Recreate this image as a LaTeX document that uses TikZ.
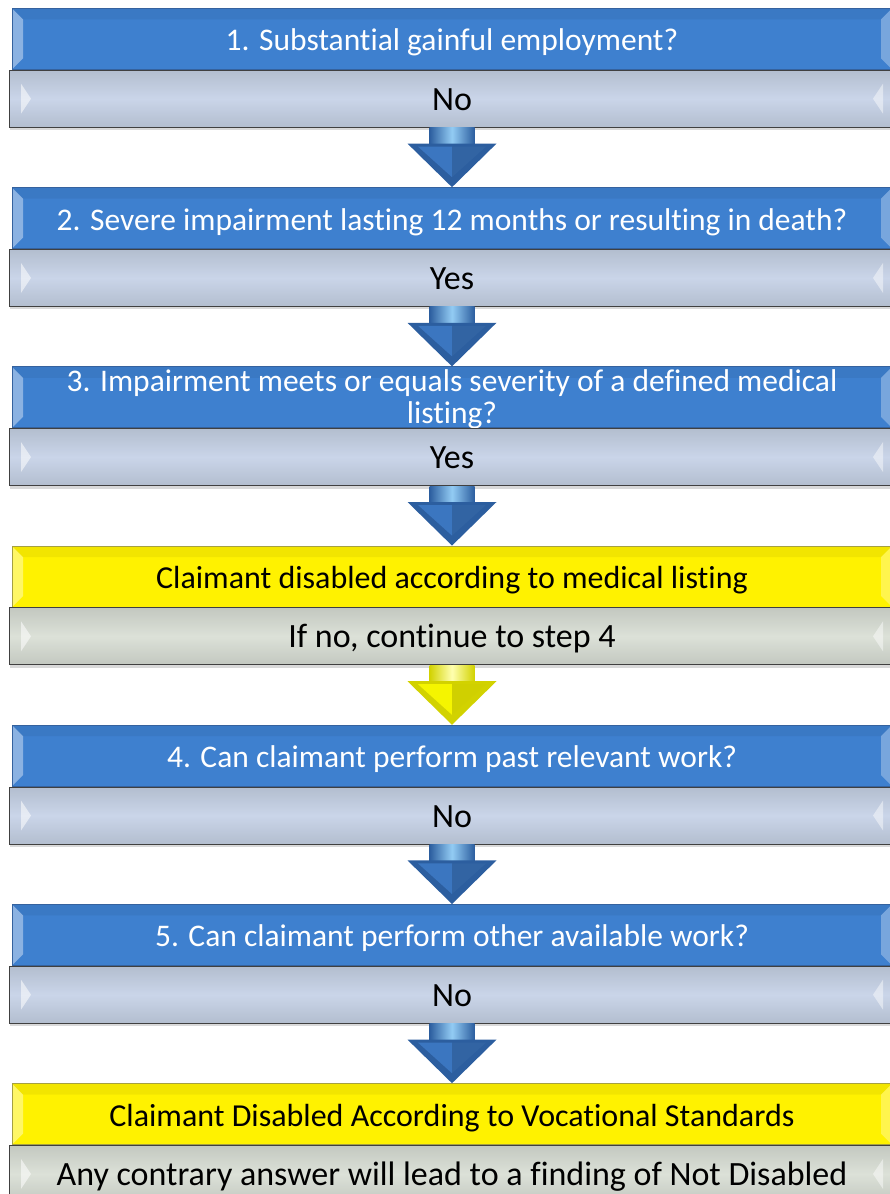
\documentclass[tikz,border=0pt]{standalone}
\usepackage{fontspec}
\setmainfont{Carlito}[Ligatures=NoCommon]
\usetikzlibrary{positioning,calc,shadows}

\definecolor{stepblue}{HTML}{3E80CF}
\definecolor{stepedge}{HTML}{35629E}
\definecolor{ansdark}{HTML}{B3BECF}
\definecolor{anslight}{HTML}{CAD5E9}
\definecolor{notedark}{HTML}{C3C8C0}
\definecolor{notelight}{HTML}{DCE1D8}
\definecolor{arrowbluedark}{HTML}{2C5E9F}
\definecolor{arrowbluemid}{HTML}{3B76C0}
\definecolor{arrowbluelight}{HTML}{93CCF4}
\definecolor{arrowyellowdark}{HTML}{D2D200}
\definecolor{arrowyellowmid}{HTML}{F5F500}
\definecolor{arrowyellowlight}{HTML}{FFFFB0}

\newcommand{\stepfont}{\fontsize{15.75pt}{16pt}\selectfont}
\newcommand{\ansfont}{\fontsize{17pt}{19pt}\selectfont}

% block arrow from the answer box #1 down to the next box #2
\newcommand{\flowarrow}[3]{%
  \shade[left color=#3dark, right color=#3dark, middle color=#3light]
    ($(#1.south)+(-11.25pt,0pt)$) rectangle ($(#1.south)+(11.25pt,-8.5pt)$);
  \fill[#3dark] ($(#1.south)+(-22.25pt,-8pt)$) -- ($(#1.south)+(22.25pt,-8pt)$) -- (#2.north) -- cycle;
  \fill[#3mid] ($(#1.south)+(-17pt,-9.5pt)$) -- ($(#1.south)+(0pt,-9.5pt)$) -- ($(#2.north)+(0pt,5pt)$) -- cycle;
  \fill[#3mid!85!black] ($(#1.south)+(0pt,-9.5pt)$) -- ($(#1.south)+(17pt,-9.5pt)$) -- ($(#2.north)+(0pt,5pt)$) -- cycle;
}

\tikzset{
  qbevel/.style={path picture={
    \path (path picture bounding box.north west) coordinate (nw)
          (path picture bounding box.south east) coordinate (se);
    \fill[white,opacity=.4] (nw) -- ++(5.5pt,-5.5pt) -- ([shift={(5.5pt,5.5pt)}]nw|-se) -- (nw|-se) -- cycle;
    \fill[white,opacity=.3] (se) -- ++(-5.5pt,5.5pt) -- ([shift={(-5.5pt,-5.5pt)}]se|-nw) -- (se|-nw) -- cycle;
    \fill[black,opacity=.05] (nw) -- ++(5.5pt,-5.5pt) -- ([shift={(-5.5pt,-5.5pt)}]se|-nw) -- (se|-nw) -- cycle;
  }},
  abevel/.style={path picture={
    \path (path picture bounding box.west) coordinate (w)
          (path picture bounding box.east) coordinate (e);
    \fill[white,opacity=.55] ([shift={(6pt,7.5pt)}]w) -- ++(5pt,-7.5pt) -- ++(-5pt,-7.5pt) -- cycle;
    \fill[white,opacity=.45] ([shift={(-6pt,7.5pt)}]e) -- ++(-5pt,-7.5pt) -- ++(5pt,-7.5pt) -- cycle;
  }},
  stepbox/.style={rectangle, draw=stepedge, fill=stepblue, text=white, inner sep=0pt,
    minimum width=440pt, minimum height=30.5pt, anchor=north, font=\stepfont,
    text height=13pt, text depth=1pt, qbevel},
  resultbox/.style={stepbox, draw=yellow!60!black, fill=yellow, text=black,
    font=\fontsize{16pt}{18pt}\selectfont},
  answerbox/.style={rectangle, draw=black!75, inner sep=0pt, minimum width=443pt,
    minimum height=28.5pt, font=\ansfont, text height=12.5pt, text depth=1pt,
    top color=ansdark, bottom color=ansdark, middle color=anslight,
    drop shadow={shadow xshift=.5pt, shadow yshift=-1.5pt, opacity=.3}, abevel},
  notebox/.style={answerbox, top color=notedark, bottom color=notedark, middle color=notelight},
}

\begin{document}
\begin{tikzpicture}[x=0.5pt, y=-0.5pt]
\useasboundingbox (0,0) rectangle (889,1194);

\node[stepbox] (q1) at (452,8) {1. Substantial gainful employment?};
\node[answerbox, below=0pt of q1] (a1) {No};

\node[stepbox, below=29.8pt of a1] (q2) {2. Severe impairment lasting 12 months or resulting in death?};
\node[answerbox, below=0pt of q2] (a2) {Yes};

\node[stepbox, below=29.8pt of a2] (q3) {};
\node[text=white, font=\stepfont, align=center] (q3text) at ([yshift=-1pt]q3.center)
  {3. Impairment meets or equals severity of a defined medical\\listing?};
\node[answerbox, below=0pt of q3] (a3) {Yes};

\node[resultbox, below=29.8pt of a3] (r1) {Claimant disabled according to medical listing};
\node[notebox, below=0pt of r1] (n1) {If no, continue to step 4};

\node[stepbox, below=29.8pt of n1] (q4) {4. Can claimant perform past relevant work?};
\node[answerbox, below=0pt of q4] (a4) {No};

\node[stepbox, below=29.8pt of a4] (q5) {5. Can claimant perform other available work?};
\node[answerbox, below=0pt of q5] (a5) {No};

\node[resultbox, below=29.8pt of a5] (r2) {Claimant Disabled According to Vocational Standards};
\node[notebox, below=0pt of r2] (n2) {Any contrary answer will lead to a finding of Not Disabled};

\flowarrow{a1}{q2}{arrowblue}
\flowarrow{a2}{q3}{arrowblue}
\flowarrow{a3}{r1}{arrowblue}
\flowarrow{n1}{q4}{arrowyellow}
\flowarrow{a4}{q5}{arrowblue}
\flowarrow{a5}{r2}{arrowblue}
\end{tikzpicture}
\end{document}
